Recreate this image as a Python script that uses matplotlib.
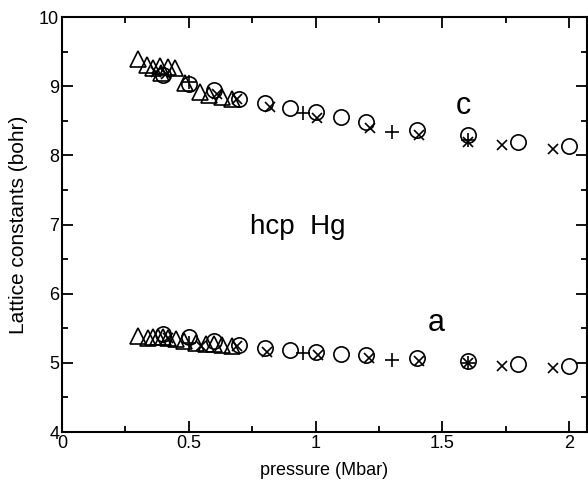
import numpy as np
import matplotlib
matplotlib.use("Agg")
import matplotlib.pyplot as plt
from matplotlib.ticker import MultipleLocator

plt.rcParams['font.family'] = ['Liberation Sans', 'DejaVu Sans']

# c lattice constant
c_tri_p = [0.30, 0.335, 0.36, 0.385, 0.39, 0.42, 0.445, 0.485, 0.545, 0.58, 0.63, 0.67]
c_tri_v = [9.39, 9.30, 9.27, 9.29, 9.19, 9.28, 9.27, 9.05, 8.92, 8.87, 8.84, 8.81]
c_circ_p = [0.40, 0.50, 0.60, 0.70, 0.80, 0.90, 1.00, 1.10, 1.20, 1.40, 1.60, 1.80, 2.00]
c_circ_v = [9.16, 9.03, 8.94, 8.82, 8.76, 8.68, 8.62, 8.55, 8.48, 8.37, 8.29, 8.20, 8.13]
c_x_p = [0.37, 0.41, 0.61, 0.69, 0.82, 1.005, 1.215, 1.41, 1.60, 1.735, 1.935]
c_x_v = [9.20, 9.17, 8.88, 8.82, 8.70, 8.54, 8.39, 8.29, 8.20, 8.15, 8.09]
c_plus_p = [0.50, 0.95, 1.30, 1.60]
c_plus_v = [9.06, 8.61, 8.34, 8.22]

# a lattice constant
a_tri_p = [0.30, 0.34, 0.36, 0.38, 0.40, 0.42, 0.45, 0.48, 0.53, 0.57, 0.60, 0.63, 0.67]
a_tri_v = [5.39, 5.36, 5.37, 5.38, 5.37, 5.36, 5.34, 5.32, 5.29, 5.27, 5.27, 5.26, 5.25]
a_circ_p = [0.40, 0.50, 0.60, 0.70, 0.80, 0.90, 1.00, 1.10, 1.20, 1.40, 1.60, 1.80, 2.00]
a_circ_v = [5.42, 5.37, 5.31, 5.26, 5.22, 5.19, 5.16, 5.13, 5.11, 5.07, 5.02, 4.98, 4.95]
a_x_p = [0.42, 0.55, 0.69, 0.81, 1.01, 1.21, 1.41, 1.60, 1.735, 1.935]
a_x_v = [5.36, 5.25, 5.24, 5.16, 5.11, 5.07, 5.02, 5.00, 4.96, 4.93]
a_plus_p = [0.50, 0.95, 1.30, 1.60]
a_plus_v = [5.28, 5.14, 5.04, 5.00]

fig = plt.figure(figsize=(5.88, 4.82), dpi=100)
ax = fig.add_axes([0.1054, 0.1037, 0.893, 0.861])

mk = dict(linestyle='none', color='black', markerfacecolor='none', markeredgewidth=1.2)
for p, v in [(c_tri_p, c_tri_v), (a_tri_p, a_tri_v)]:
    ax.plot(p, v, marker='^', markersize=11, **mk)
for p, v in [(c_circ_p, c_circ_v), (a_circ_p, a_circ_v)]:
    ax.plot(p, v, marker='o', markersize=11, **mk)
for p, v in [(c_x_p, c_x_v), (a_x_p, a_x_v)]:
    ax.plot(p, v, marker='x', markersize=7, **mk)
for p, v in [(c_plus_p, c_plus_v), (a_plus_p, a_plus_v)]:
    ax.plot(p, v, marker='+', markersize=10, **mk)

ax.set_xlim(0, 2.071)
ax.set_ylim(4, 10)
ax.set_xticks([0, 0.5, 1, 1.5, 2])
ax.set_xticklabels(['0', '0.5', '1', '1.5', '2'])
ax.set_yticks([4, 5, 6, 7, 8, 9, 10])
ax.xaxis.set_minor_locator(MultipleLocator(0.25))
ax.yaxis.set_minor_locator(MultipleLocator(0.5))
ax.tick_params(which='both', direction='in', top=True, right=True, width=1.3,
               labelsize=13, pad=2)
ax.tick_params(which='major', length=8)
ax.tick_params(which='minor', length=4)
for s in ax.spines.values():
    s.set_linewidth(1.5)

ax.set_xlabel('pressure (Mbar)', fontsize=13, labelpad=7)
ax.set_ylabel('Lattice constants (bohr)', fontsize=15, labelpad=8)

ax.text(1.585, 8.72, 'c', fontsize=22, ha='center', va='center')
ax.text(1.475, 5.57, 'a', fontsize=22, ha='center', va='center')
ax.text(0.93, 6.96, 'hcp  Hg', fontsize=20, ha='center', va='center')

fig.savefig('out.png', dpi=100)
